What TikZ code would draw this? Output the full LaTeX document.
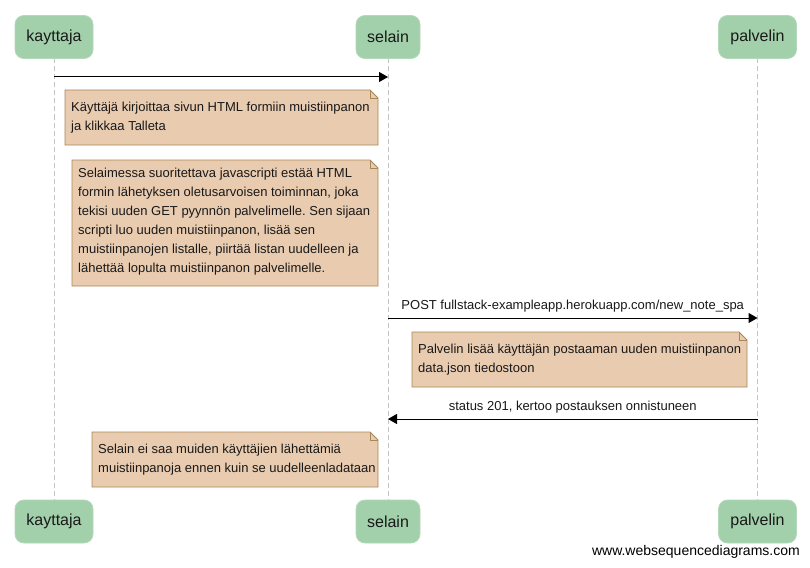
\documentclass[tikz,border=0pt]{standalone}
\usepackage{fontspec}
\setmainfont{Liberation Sans}
\frenchspacing
\usetikzlibrary{arrows.meta,calc}
\pgfdeclarelayer{bottom}
\pgfdeclarelayer{background}
\pgfsetlayers{bottom,background,main}
\definecolor{partfill}{HTML}{A2D0AA}
\definecolor{partdraw}{HTML}{B4D9BA}
\definecolor{notefill}{HTML}{E9CBB0}
\definecolor{notedraw}{HTML}{A88858}
\definecolor{lifegray}{HTML}{C4C4C4}
\tikzset{
  x=1pt, y=-1pt,
  participant/.style={rectangle, rounded corners=9pt, fill=partfill, draw=partdraw, line width=0.8pt,
    minimum height=43pt, inner sep=0pt, outer sep=0pt, font=\fontsize{16}{19}\selectfont, text=black!90},
  noteshape/.style={rectangle, inner sep=0pt, outer sep=0pt},
  notepoly/.style={fill=notefill, draw=notedraw, line width=0.9pt},
  notetext/.style={align=left, inner sep=0pt, font=\fontsize{13}{19}\selectfont, text=black!90},
  lifeline/.style={draw=lifegray, line width=0.9pt, dash pattern=on 5pt off 3pt},
  msg/.style={draw=black, line width=1pt, -{Triangle[length=9pt,width=10pt]}},
  msglabel/.style={font=\fontsize{13}{15}\selectfont, inner sep=0pt, text=black!90},
}
\newcommand{\drawnote}[1]{%
  \begin{pgfonlayer}{background}
  \draw[notepoly] (#1.north west) -- ([xshift=-8pt]#1.north east) -- ([yshift=-8pt]#1.north east)
     -- (#1.south east) -- (#1.south west) -- cycle;
  \draw[draw=notedraw, line width=0.9pt] ([xshift=-8pt]#1.north east) |- ([yshift=-8pt]#1.north east);
  \end{pgfonlayer}}
\begin{document}
\begin{tikzpicture}
\begin{pgfonlayer}{bottom}
\fill[white] (0,0) rectangle (810,567);
\end{pgfonlayer}
\useasboundingbox (0,0) rectangle (810,567);
% participants top
\node[participant, minimum width=78pt] (kt) at (54,37) {kayttaja};
\node[participant, minimum width=64pt] (st) at (388,37) {selain};
\node[participant, minimum width=78pt] (pt) at (757.5,37) {palvelin};
% participants bottom
\node[participant, minimum width=78pt] (kb) at (54,521.5) {kayttaja};
\node[participant, minimum width=64pt] (sb) at (388,521.5) {selain};
\node[participant, minimum width=78pt] (pb) at (757.5,521.5) {palvelin};
% lifelines
\begin{pgfonlayer}{background}
\draw[lifeline] (kt.south) -- (kb.north);
\draw[lifeline] (st.south) -- (sb.north);
\draw[lifeline] (pt.south) -- (pb.north);
\end{pgfonlayer}
% message 1
\coordinate (m1a) at (54,77);
\coordinate (m1b) at (388,77);
\draw[msg] (m1a) -- (m1b);
% note 1
\node[noteshape, minimum width=313pt, minimum height=55pt, anchor=north west] (n1) at (65,90) {};
\drawnote{n1}
\node[notetext, anchor=west] (t1) at ([xshift=6pt]n1.west) {Käyttäjä kirjoittaa sivun HTML formiin muistiinpanon\\ja klikkaa Talleta};
% note 2
\node[noteshape, minimum width=306pt, minimum height=126pt, anchor=north west] (n2) at (72,160) {};
\drawnote{n2}
\node[notetext, anchor=west] (t2) at ([xshift=6pt,yshift=1.5pt]n2.west) {Selaimessa suoritettava javascripti estää HTML\\formin lähetyksen oletusarvoisen toiminnan, joka\\tekisi uuden GET pyynnön palvelimelle. Sen sijaan\\scripti luo uuden muistiinpanon, lisää sen\\muistiinpanojen listalle, piirtää listan uudelleen ja\\lähettää lopulta muistiinpanon palvelimelle.};
% message 2
\coordinate (m2a) at (388,318);
\coordinate (m2b) at (757.5,318);
\draw[msg] (m2a) -- (m2b) node[msglabel, midway, above=5pt] (l2) {POST fullstack-exampleapp.herokuapp.com/new\_note\_spa};
% note 3
\node[noteshape, minimum width=335pt, minimum height=55pt, anchor=north west] (n3) at (412,332) {};
\drawnote{n3}
\node[notetext, anchor=west] (t3) at ([xshift=6pt]n3.west) {Palvelin lisää käyttäjän postaaman uuden muistiinpanon\\data.json tiedostoon};
% message 3
\coordinate (m3a) at (757.5,419);
\coordinate (m3b) at (388,419);
\draw[msg] (m3a) -- (m3b) node[msglabel, midway, above=5pt] (l3) {status 201, kertoo postauksen onnistuneen};
% note 4
\node[noteshape, minimum width=286pt, minimum height=55pt, anchor=north west] (n4) at (92,432) {};
\drawnote{n4}
\node[notetext, anchor=west] (t4) at ([xshift=6pt]n4.west) {Selain ei saa muiden käyttäjien lähettämiä\\muistiinpanoja ennen kuin se uudelleenladataan};
% watermark
\node[anchor=east, inner sep=0pt, font=\fontsize{14}{16}\selectfont] (wm) at (800,552) {www.websequencediagrams.com};
\end{tikzpicture}
\end{document}
